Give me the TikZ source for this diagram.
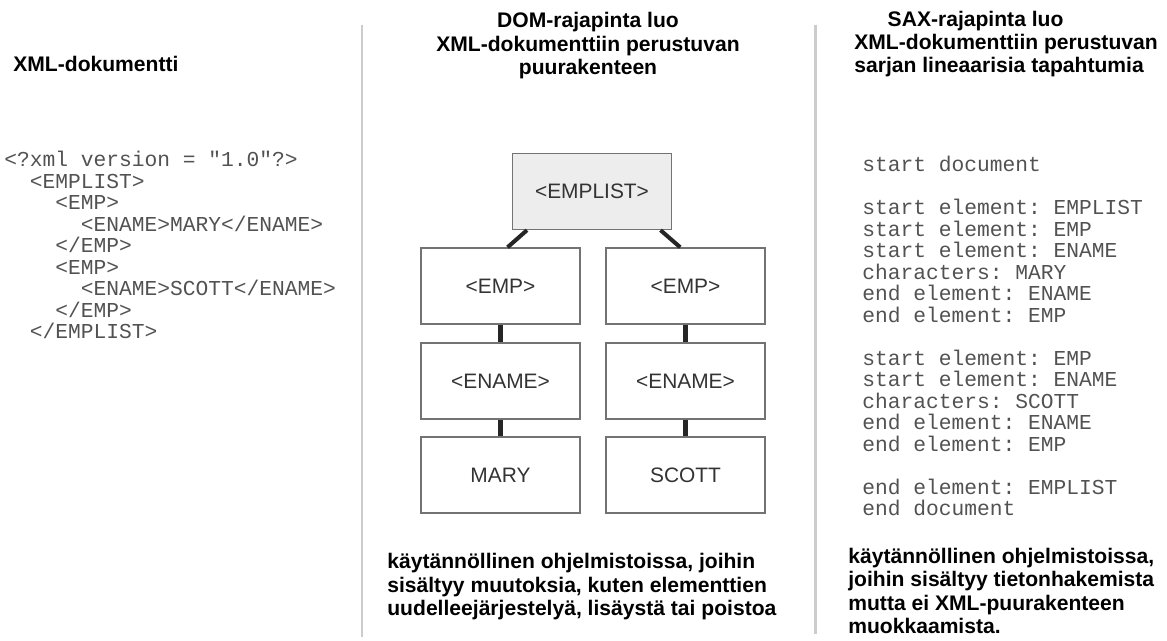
\documentclass[tikz,border=0pt]{standalone}
\usepackage{fontspec}
\setmainfont{Liberation Sans}
\setmonofont{Liberation Mono}

\begin{document}
\begin{tikzpicture}[x=0.02cm, y=-0.02cm,
  heading/.style={font=\bfseries\fontsize{12}{13.3}\selectfont, inner sep=0pt},
  remark/.style={font=\bfseries\fontsize{12}{13.4}\selectfont, inner sep=0pt, align=left, anchor=base west},
  listing/.style={font=\ttfamily\fontsize{12.1}{12.25}\selectfont, text=black!68, inner sep=0pt, align=left, anchor=base west},
  elem/.style={draw=black!55, line width=0.8pt, minimum width=3.18cm, minimum height=1.52cm, font=\fontsize{11.9}{13}\selectfont, text=black!80},
  link/.style={draw=black!85, line width=2.3pt},
  divider/.style={draw=black!20, line width=1.7pt}]
 \useasboundingbox (0,0) rectangle (1167,641);
 \draw[divider] (362,25) -- (362,637);
 \draw[divider] (815,25) -- (815,634);

 % XML-dokumentti (base = last line)
 \node[heading, anchor=base west] (xmltitle) at (13,72) {XML-dokumentti};
 \node[listing] (xmlcode) at (4,339) {<?xml version = "1.0"?>\\
  \hphantom{xx}<EMPLIST>\\
  \hphantom{xxxx}<EMP>\\
  \hphantom{xxxxxx}<ENAME>MARY</ENAME>\\
  \hphantom{xxxx}</EMP>\\
  \hphantom{xxxx}<EMP>\\
  \hphantom{xxxxxx}<ENAME>SCOTT</ENAME>\\
  \hphantom{xxxx}</EMP>\\
  \hphantom{xx}</EMPLIST>};

 % DOM
 \node[heading, align=center, anchor=base] (domtitle) at (588,74.5) {DOM-rajapinta luo\\XML-dokumenttiin perustuvan\\puurakenteen};
 \node[elem, fill=black!7] (emplist) at (592,191.5) {<EMPLIST>};
 \node[elem] (emp1) at (500.5,286) {<EMP>};
 \node[elem] (emp2) at (685.5,286) {<EMP>};
 \node[elem] (ename1) at (500.5,381) {<ENAME>};
 \node[elem] (ename2) at (685.5,381) {<ENAME>};
 \node[elem] (mary) at (500.5,475) {MARY};
 \node[elem] (scott) at (685.5,475) {SCOTT};
 \draw[link] ([xshift=-37pt]emplist.south) -- ([xshift=4pt]emp1.north);
 \draw[link] ([xshift=39pt]emplist.south) -- ([xshift=-3pt]emp2.north);
 \draw[link] (emp1) -- (ename1);
 \draw[link] (emp2) -- (ename2);
 \draw[link] (ename1) -- (mary);
 \draw[link] (ename2) -- (scott);
 \node[remark] (domnote) at (387,616) {käytännöllinen ohjelmistoissa, joihin\\sisältyy muutoksia, kuten elementtien\\uudelleejärjestelyä, lisäystä tai poistoa};

 % SAX
 \node[heading, align=left, anchor=base west] (saxtitle) at (854,73) {\hspace*{19pt}SAX-rajapinta luo\\XML-dokumenttiin perustuvan\\sarjan lineaarisia tapahtumia};
 \node[listing] (saxcode) at (862,516) {start document\\[12.25pt]
  start element: EMPLIST\\
  start element: EMP\\
  start element: ENAME\\
  characters: MARY\\
  end element: ENAME\\
  end element: EMP\\[12.25pt]
  start element: EMP\\
  start element: ENAME\\
  characters: SCOTT\\
  end element: ENAME\\
  end element: EMP\\[12.25pt]
  end element: EMPLIST\\
  end document};
 \node[remark] (saxnote) at (848,634) {käytännöllinen ohjelmistoissa,\\joihin sisältyy tietonhakemista\\mutta ei XML-puurakenteen\\muokkaamista.};
\end{tikzpicture}
\end{document}
